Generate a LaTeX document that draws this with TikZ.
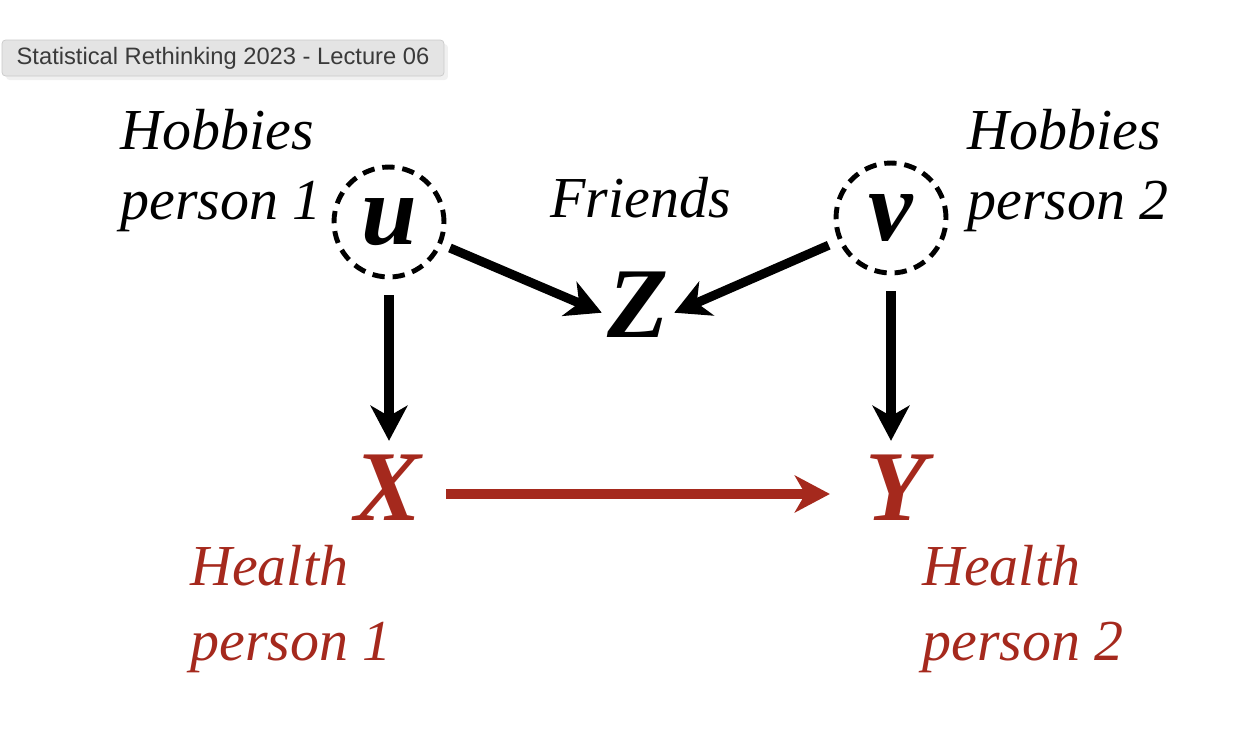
\documentclass[tikz,border=0pt]{standalone}
\usepackage{fontspec}
\setmainfont{Liberation Serif}
\setsansfont{Liberation Sans}
\usetikzlibrary{arrows.meta,shadows}
\definecolor{healthred}{HTML}{A5291D}
\definecolor{tagfill}{HTML}{E4E4E4}
\definecolor{tagline}{HTML}{C9C9C9}
\definecolor{tagtext}{HTML}{3A3A3A}
\begin{document}
\begin{tikzpicture}[x=0.02cm, y=-0.02cm,
    lbl/.style={font=\fontsize{33}{39.5}\selectfont\itshape, align=left, inner sep=0pt},
    var/.style={font=\fontsize{57}{57}\selectfont\bfseries\itshape, inner sep=0pt},
    latent/.style={circle, draw, line width=2.8pt, dash pattern=on 7pt off 4.5pt,
      minimum size=2.2cm, inner sep=0pt},
    edge/.style={line width=5.2pt, -{Stealth[length=20pt, width=21pt, inset=6pt]}},
    tag/.style={draw=tagline, fill=tagfill, rounded corners=2pt, text=tagtext,
      font=\sffamily\fontsize{13.5}{16}\selectfont, drop shadow={opacity=0.12},
      minimum width=8.84cm, minimum height=0.72cm, inner sep=0pt}]
  \useasboundingbox (0,0) rectangle (1260,748);
  \node[tag] (title) at (223,58) {Statistical Rethinking 2023 - Lecture 06};
  % latent causes
  \node[latent] (u) at (389,222) {};
  \node[latent] (v) at (891,218) {};
  \node[var] (ulet) at (u) {u};
  \node[var] (vlet) at (v) {v};
  \node[lbl, anchor=base west] (hob1) at (120,219) {Hobbies\\person 1};
  \node[lbl, anchor=base west] (hob2) at (967,219) {Hobbies\\person 2};
  % collider
  \node[var, inner sep=3pt] (Z) at (638,305) {Z};
  \node[lbl, anchor=base west] (fri) at (550,217) {Friends};
  % exposure and outcome
  \node[var, text=healthred] (X) at (388,488) {X};
  \node[var, text=healthred] (Y) at (896,488) {Y};
  \node[lbl, text=healthred, anchor=base west, font=\fontsize{33}{42.5}\selectfont\itshape]
    (hx) at (190,660) {Health\\person 1};
  \node[lbl, text=healthred, anchor=base west, font=\fontsize{33}{42.5}\selectfont\itshape]
    (hy) at (922,660) {Health\\person 2};
  \draw[edge, shorten <=5pt] (u) -- (Z.192);
  \draw[edge, shorten <=6pt] (v) -- (Z.-12);
  \draw[edge, shorten <=9pt, shorten >=8pt] (u.south) -- (u.south |- X.north);
  \draw[edge, shorten <=9pt, shorten >=8pt] (v.south) -- (v.south |- Y.north);
  \draw[edge, healthred, shorten <=14pt, shorten >=20pt]
    ([yshift=-3.4pt]X.east) -- ([yshift=-3.4pt]X.east -| Y.west);
\end{tikzpicture}
\end{document}
